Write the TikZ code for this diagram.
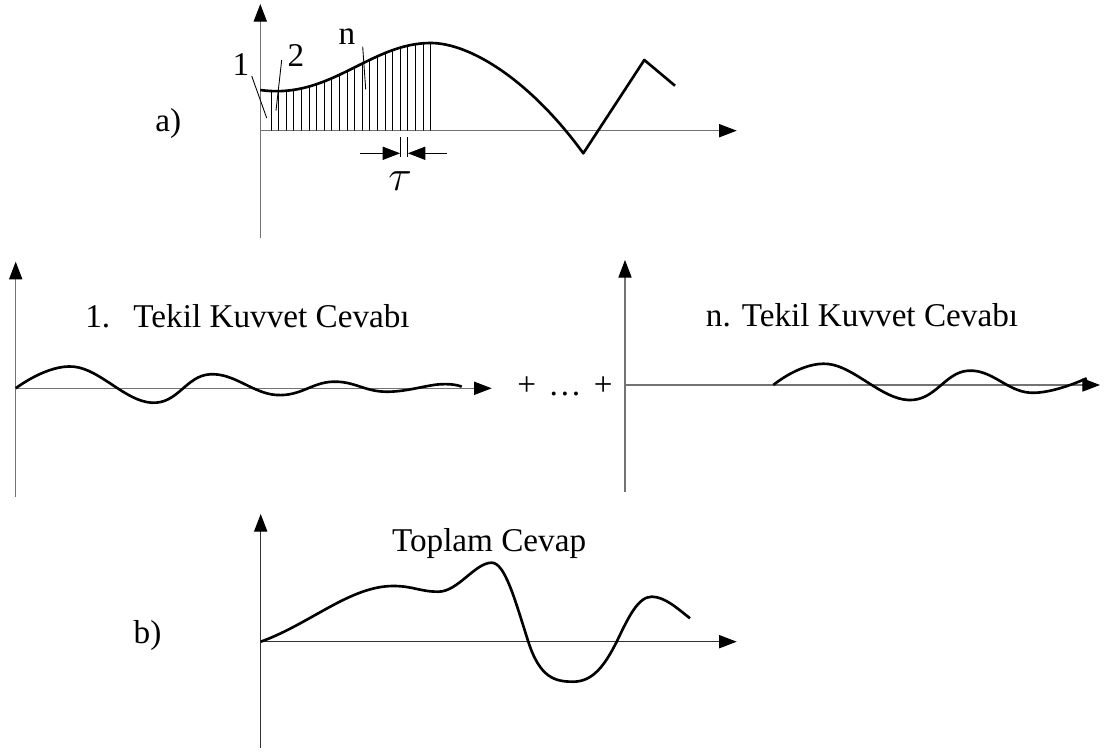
\documentclass[tikz,border=0pt]{standalone}
\usepackage{fontspec}
\setmainfont{Liberation Serif}
\usetikzlibrary{arrows.meta, positioning}

\tikzset{
  axis/.style={draw=black!55, line width=0.6pt, -{Triangle[length=10pt, width=7.5pt, black]}},
  signal/.style={line width=1.5pt, line join=round},
  hatch/.style={line width=0.55pt},
  leader/.style={line width=0.5pt},
  lbl/.style={font=\fontsize{18.9}{22}\selectfont, inner sep=0pt},
}

\begin{document}
\begin{tikzpicture}[x=0.02cm, y=-0.02cm, >={Triangle[length=10pt, width=7.5pt]}]
  \useasboundingbox (0,0) rectangle (1106,753);
  % ── a) input force, split into n impulses ─────────────────────
  \coordinate (Oa)  at (260.3,130.7);
  \coordinate (Ya)  at (260.3,4);
  \coordinate (Yab) at (260.3,238);
  \coordinate (Xa)  at (736.7,130.7);
  \draw[axis] (Yab) -- (Ya);
  \draw[axis] (Oa) -- (Xa);
  \begin{scope}
    \clip (260.3,90) .. controls (330,100) and (370,43) .. (430.7,43)
          -- (432,43) -- (432,130.7) -- (Oa) -- cycle;
    \foreach \k in {0,...,21}
      \draw[hatch] (271+7.6*\k,130.7) -- (271+7.6*\k,30);
  \end{scope}
  \draw[signal] (260.3,90) .. controls (330,100) and (370,43) .. (430.7,43)
                .. controls (470,43) and (530,80) .. (583.3,153.3)
                -- (644.3,60) -- (675,85.7);
  \node[lbl, anchor=base west] (la) at (155,131.7) {a)};
  % impulse labels
  \node[lbl, anchor=base] (i1) at (241,76) {1};
  \node[lbl, anchor=base] (i2) at (296,67) {2};
  \node[lbl, anchor=base] (in) at (347,45) {n};
  \coordinate (i1e) at (266.7,118);
  \coordinate (i2e) at (276,110.7);
  \coordinate (ine) at (365.7,89.3);
  \draw[leader] (251.7,76) -- (i1e);
  \draw[leader] (281.7,60) -- (i2e);
  \draw[leader] (362.7,46.7) -- (ine);
  % width of one impulse
  \coordinate (tL) at (400.2,153.3);
  \coordinate (tR) at (407.8,153.3);
  \draw[hatch] (400.2,137) -- (400.2,157);
  \draw[hatch] (407.8,137) -- (407.8,157);
  \draw[->, line width=0.6pt] (360,153.3) -- (tL);
  \draw[->, line width=0.6pt] (446.7,153.3) -- (tR);
  \node[lbl, font=\fontsize{24}{26}\selectfont] (tau) at (400,181) {$\tau$};
  % ── first impulse response ────────────────────────────────────
  \coordinate (O1)  at (15.7,388.3);
  \draw[axis] (15.7,496.7) -- (15.7,261.7);
  \draw[axis] (O1) -- (491.7,388.3);
  \draw[signal] plot[smooth, tension=0.7] coordinates {(15.7,388.3) (74,366.7)
      (151.7,402.7) (210,374.3) (276.7,395) (333,381.7) (385,391.7)
      (440,384.3) (461.7,386.7)};
  \node[lbl, anchor=base west] (t1) at (85,327.3) {1.\hspace{0.7em}Tekil Kuvvet Cevabı};
  \node[lbl] (plus) at (565,386.7) {+\hspace{0.37em}…\hspace{0.37em}+};
  % ── n-th impulse response ─────────────────────────────────────
  \coordinate (On) at (625,385);
  \draw[axis] (625,491.7) -- (625,260);
  \draw[axis] (On) -- (1100,385);
  \draw[signal] plot[smooth, tension=0.7] coordinates {(773.3,385) (828.3,364)
      (908.3,400) (968.3,370.7) (1030,392.7) (1086.7,378.3)};
  \node[lbl, anchor=base] (tn) at (862,326.7) {n. Tekil Kuvvet Cevabı};
  % ── b) total response ─────────────────────────────────────────
  \coordinate (Ob) at (260.7,641.7);
  \draw[axis, draw=black!80] (260.7,748.3) -- (260.7,514);
  \draw[axis, draw=black!80] (Ob) -- (736.7,641.7);
  \draw[signal] (Ob) .. controls (310,624) and (350,586) .. (393.3,586)
      .. controls (413,586) and (420,591.7) .. (438.3,591.7)
      .. controls (458,591.7) and (475,562.7) .. (491.7,562.7)
      .. controls (505,562.7) and (515,600) .. (528.3,641.7)
      .. controls (540,678) and (555,681.7) .. (573.3,681.7)
      .. controls (593,681.7) and (605,665) .. (616.7,641.7)
      .. controls (628,618) and (638,596.7) .. (651.7,596.7)
      .. controls (665,596.7) and (678,609) .. (690,618.3);
  \node[lbl, anchor=base west] (lb) at (133.3,643.3) {b)};
  \node[lbl, anchor=base west] (tt) at (391.7,551.7) {Toplam Cevap};
\end{tikzpicture}
\end{document}
